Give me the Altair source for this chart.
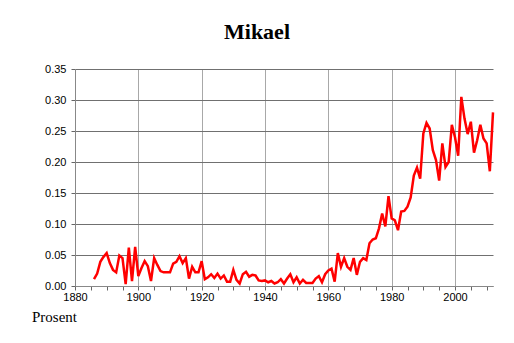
import altair as alt
import pandas as pd

title_text = "Mikael"
ylabel_text = "Prosent"

years = list(range(1886, 2013))
values = [
    0.011, 0.020, 0.039, 0.047,
    0.053, 0.037, 0.026, 0.022, 0.049, 0.045, 0.003, 0.062, 0.008, 0.063,
    0.016, 0.029, 0.040, 0.032, 0.008, 0.045, 0.034, 0.024, 0.022, 0.022,
    0.022, 0.036, 0.039, 0.048, 0.037, 0.045, 0.012, 0.031, 0.022, 0.022,
    0.040, 0.011, 0.014, 0.019, 0.013, 0.020, 0.012, 0.017, 0.007, 0.007,
    0.026, 0.010, 0.004, 0.019, 0.023, 0.015, 0.018, 0.017, 0.009, 0.008,
    0.009, 0.006, 0.008, 0.004, 0.006, 0.011, 0.004, 0.012, 0.019, 0.006,
    0.014, 0.004, 0.010, 0.005, 0.005, 0.005, 0.012, 0.016, 0.006, 0.019,
    0.025, 0.028, 0.007, 0.053, 0.031, 0.045, 0.031, 0.026, 0.045, 0.018,
    0.039, 0.045, 0.042, 0.069, 0.075, 0.077, 0.093, 0.117, 0.096, 0.145,
    0.109, 0.106, 0.090, 0.120, 0.121, 0.128, 0.143, 0.178, 0.191, 0.173,
    0.246, 0.263, 0.254, 0.219, 0.203, 0.170, 0.230, 0.192, 0.200, 0.260,
    0.240, 0.210, 0.305, 0.270, 0.245, 0.265, 0.215, 0.235, 0.260, 0.238,
    0.230, 0.185, 0.280,
]
y_ticks = [0.0, 0.05, 0.10, 0.15, 0.20, 0.25, 0.30, 0.35]
x_ticks = list(range(1880, 2011, 5))
x_domain = [1880, 2012]
y_domain = [0, 0.35]

df = pd.DataFrame({"year": years, "value": values})

W, H = 418, 217
LEFT, TOP = 75, 69

line = alt.Chart(df).mark_line(color="#ff0000", strokeWidth=2.5).encode(
    x=alt.X(
        "year:Q",
        scale=alt.Scale(domain=x_domain, nice=False, zero=False),
        axis=alt.Axis(
            values=x_ticks,
            format="d",
            labelExpr="datum.value % 20 == 0 ? datum.label : ''",
            title=None,
            grid=True,
            gridColor="#a8a8a8",
            gridWidth=1,
            gridOpacity={"condition": {"test": "datum.value % 20 == 0 && datum.value > 1880", "value": 1}, "value": 0},
            domainColor="#888888",
            tickColor="#666666",
            tickSize=4,
            labelFont="Liberation Sans",
            labelFontSize=11,
            labelColor="#000000",
            labelPadding=1,
            labelFlush=False,
        ),
    ),
    y=alt.Y(
        "value:Q",
        scale=alt.Scale(domain=y_domain, nice=False),
        axis=alt.Axis(
            values=y_ticks,
            format=".2f",
            title=None,
            grid=True,
            gridColor="#707070",
            gridWidth=1,
            domainColor="#888888",
            tickColor="#666666",
            tickSize=4,
            labelFont="Liberation Sans",
            labelFontSize=11,
            labelColor="#000000",
            labelPadding=5,
        ),
    ),
)

title = alt.Chart(pd.DataFrame({"t": [title_text]})).mark_text(
    font="Liberation Serif", fontSize=22, fontWeight="bold", color="#000000",
    align="center", baseline="alphabetic",
).encode(text="t:N", x=alt.value(257 - LEFT), y=alt.value(39 - TOP))

ylab = alt.Chart(pd.DataFrame({"t": [ylabel_text]})).mark_text(
    font="Liberation Serif", fontSize=15, color="#000000",
    align="left", baseline="alphabetic",
).encode(text="t:N", x=alt.value(32 - LEFT), y=alt.value(322 - TOP))

chart = alt.layer(line, title, ylab).properties(
    width=W,
    height=H,
    autosize=alt.AutoSizeParams(type="none"),
    padding={"left": LEFT, "top": TOP, "right": 514 - LEFT - W, "bottom": 343 - TOP - H},
    background="#ffffff",
).configure_view(stroke=None)

chart.save("out.html", embed_options={"renderer": "svg", "actions": False})
